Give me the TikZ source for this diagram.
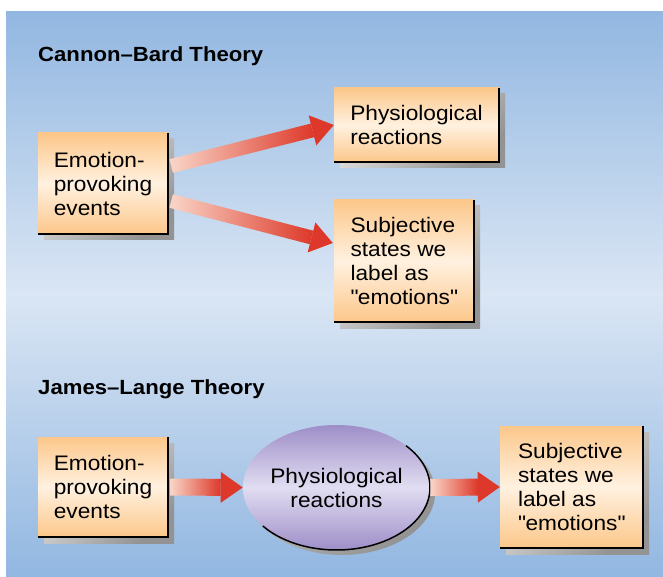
\documentclass[tikz,border=0pt]{standalone}
\usepackage{fontspec}
\setmainfont[FakeStretch=1.08]{Liberation Sans}
\usepackage{xcolor}
\usepackage{tikz}
\usetikzlibrary{shapes.geometric, arrows, positioning, calc, shadows}

\definecolor{bgblue}{RGB}{146,183,225}
\definecolor{bglight}{RGB}{218,230,244}
\definecolor{cardorange}{RGB}{252,199,138}
\definecolor{cardcream}{RGB}{255,241,224}
\definecolor{ovaldark}{RGB}{158,142,200}
\definecolor{ovallight}{RGB}{225,221,241}
\definecolor{arrowpale}{RGB}{249,214,200}
\definecolor{arrowred}{RGB}{221,56,41}

% wide shaded arrow: #1 tail, #2 tip, #3 half width of the shaft
\newcommand{\fatarrow}[3]{%
  \coordinate (hb) at ($(#2)!22pt!(#1)$);
  \shade[left color=arrowpale, right color=arrowred]
    ($(#1)!#3!90:(#2)$) -- ($(hb)!#3!-90:(#1)$) -- ($(hb)!#3!90:(#1)$) -- ($(#1)!#3!-90:(#2)$) -- cycle;
  \fill[arrowred] ($(hb)!15.5pt!-90:(#1)$) -- (#2) -- ($(hb)!15.5pt!90:(#1)$) -- cycle;
}

\begin{document}
\begin{tikzpicture}[x=1pt, y=1pt]
	% Styles
	\tikzstyle{title} = [anchor=base west, inner sep=0pt, font=\bfseries\fontsize{20.5}{24}\selectfont]
	\tikzstyle{card} = [rectangle, top color=cardorange, bottom color=cardorange, middle color=cardcream, inner sep=0pt, align=left, font=\fontsize{21}{24}\selectfont,
		general shadow={shadow xshift=6pt, shadow yshift=-6pt, top color=gray!15, bottom color=gray!85, shading angle=45}]
	\tikzstyle{oval} = [ellipse, top color=ovaldark, bottom color=ovaldark, middle color=ovallight, inner sep=0pt, align=center, font=\fontsize{21}{24}\selectfont,
		minimum width=187pt, minimum height=125pt,
		general shadow={shadow xshift=5pt, shadow yshift=-5pt, top color=gray!50, bottom color=gray!85, shading angle=45}]
	\tikzstyle{rim} = [line width=1.5pt, black]

	\useasboundingbox (0,0) rectangle (663,576);

	% Background
	\shade[top color=bgblue, bottom color=bgblue, middle color=bglight] (6,0) rectangle (663,564);

	% Nodes
	\node (cbtitle) [title] at (38,514) {Cannon--Bard Theory};
	\node (cbev) [card, minimum width=130pt, minimum height=101pt] at (103,392.5) {Emotion-\\provoking\\events};
	\node (cbphys) [card, minimum width=165pt, minimum height=74pt] at (416.5,451) {Physiological\\reactions};
	\node (cbsubj) [card, minimum width=140pt, minimum height=122pt] at (404,315) {Subjective\\states we\\label as\\\textquotedbl emotions\textquotedbl};

	\node (jltitle) [title] at (38,182) {James--Lange Theory};
	\node (jlev) [card, minimum width=130pt, minimum height=100pt] at (103,89) {Emotion-\\provoking\\events};
	\node (jlphys) [oval] at (336.5,88.5) {Physiological\\reactions};
	\node (jlsubj) [card, minimum width=143pt, minimum height=122pt] at (571.5,89) {Subjective\\states we\\label as\\\textquotedbl emotions\textquotedbl};

	% Edges
	\foreach \n in {cbev, cbphys, cbsubj, jlev, jlsubj}
		\draw [rim] (\n.north east) |- (\n.south west);
	\draw [rim] ([shift={(42:93.5pt and 62.5pt)}]jlphys.center) arc [start angle=42, end angle=-142, x radius=93.5pt, y radius=62.5pt];

	% Connections
	\coordinate (up) at ($(cbev.east)+(3,17.5)$);
	\coordinate (down) at ($(cbev.east)+(3,-17.5)$);
	\coordinate (subjin) at ($(cbsubj.west)+(-1,18)$);
	\fatarrow{up}{cbphys.west}{7pt}
	\fatarrow{down}{subjin}{7pt}
	\coordinate (evout) at ($(jlev.east)+(2,0)$);
	\fatarrow{evout}{jlphys.west}{8.5pt}
	\fatarrow{jlphys.east}{jlsubj.west}{8.5pt}

\end{tikzpicture}
\end{document}
